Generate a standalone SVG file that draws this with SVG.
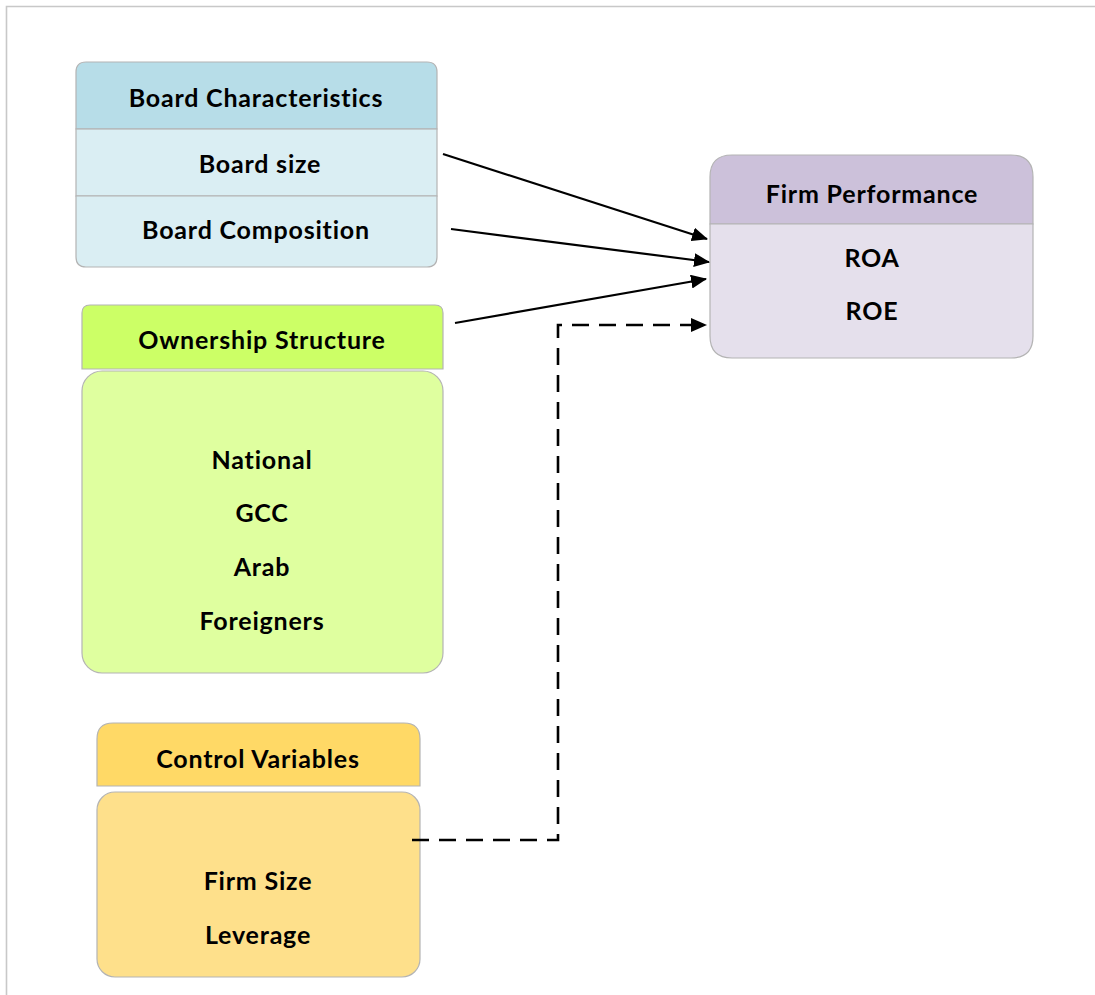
<svg xmlns="http://www.w3.org/2000/svg" width="1095" height="995" viewBox="0 0 1095 995">
<defs>
<style>
text{font-family:Lato,"Liberation Sans",sans-serif;font-weight:bold;font-size:25px;letter-spacing:0.8px;fill:#000;text-anchor:middle}
.st{stroke:#b4b4b4;stroke-width:1.2}
.conn{stroke:#000;stroke-width:2.2;fill:none}
.dash{stroke-width:2.6;stroke-dasharray:17,10}
</style>
<marker id="ah" viewBox="0 0 16 14" refX="15" refY="7" markerWidth="16" markerHeight="14" markerUnits="userSpaceOnUse" orient="auto">
<path d="M0,0 L16,7 L0,14 Z" fill="#000"/>
</marker>
</defs>
<rect width="1095" height="995" fill="#fff"/>
<path d="M6.5,995 V6.5 H1095" fill="none" stroke="#c8c8c8" stroke-width="1.6"/>

<g id="board">
<path class="st" d="M76,129 V72 Q76,62 86,62 H427 Q437,62 437,72 V129 Z" fill="#b7dde8"/>
<rect class="st" x="76" y="129" width="361" height="67" fill="#daeef3"/>
<path class="st" d="M76,196 H437 V257 Q437,267 427,267 H86 Q76,267 76,257 Z" fill="#daeef3"/>
<text x="256" y="107">Board Characteristics</text>
<text x="260" y="173">Board size</text>
<text x="256" y="239">Board Composition</text>
</g>

<g id="firm">
<path class="st" d="M710,224 V177 Q710,155 732,155 H1011 Q1033,155 1033,177 V224 Z" fill="#ccc1da"/>
<path class="st" d="M710,224 H1033 V336 Q1033,358 1011,358 H732 Q710,358 710,336 Z" fill="#e5e0ec"/>
<text x="872" y="203">Firm Performance</text>
<text x="872" y="267">ROA</text>
<text x="872" y="320">ROE</text>
</g>

<g id="ownership">
<path class="st" d="M82,369 V313 Q82,305 90,305 H435 Q443,305 443,313 V369 Z" fill="#ccff66"/>
<rect class="st" x="82" y="371" width="361" height="302" rx="20" fill="#dfff9f"/>
<text x="262" y="349">Ownership Structure</text>
<text x="262" y="469">National</text>
<text x="262" y="522">GCC</text>
<text x="262" y="576">Arab</text>
<text x="262" y="630">Foreigners</text>
</g>

<g id="control">
<path class="st" d="M97,786 V739 Q97,723 113,723 H404 Q420,723 420,739 V786 Z" fill="#ffd966"/>
<rect class="st" x="97" y="792" width="323" height="185" rx="18" fill="#fee08b"/>
<text x="258" y="768">Control Variables</text>
<text x="258" y="890">Firm Size</text>
<text x="258" y="944">Leverage</text>
</g>

<g id="connectors">
<line class="conn" x1="443" y1="154" x2="707" y2="239" marker-end="url(#ah)"/>
<line class="conn" x1="451" y1="229" x2="709" y2="262" marker-end="url(#ah)"/>
<line class="conn" x1="455" y1="323" x2="706" y2="279" marker-end="url(#ah)"/>
<path class="conn dash" d="M412,840 H558 V325 H706" marker-end="url(#ah)"/>
</g>
</svg>
